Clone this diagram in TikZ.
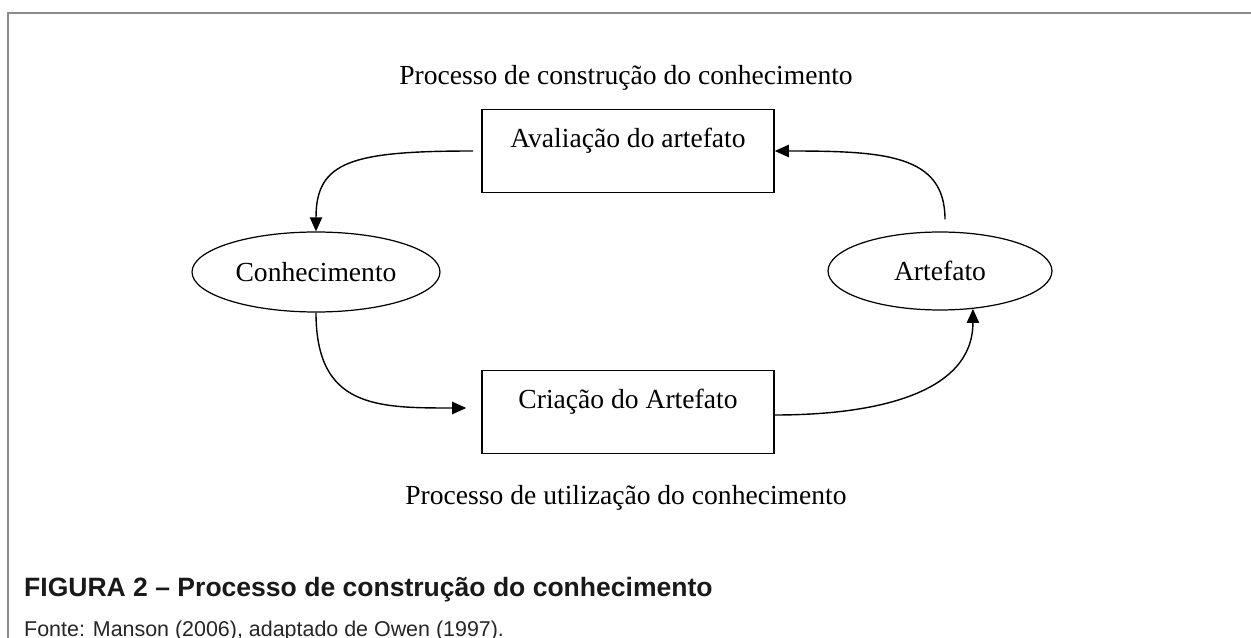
\documentclass[tikz,border=0pt]{standalone}
\usepackage{fontspec}
\setmainfont{Liberation Serif}
\newfontfamily\capfont{Liberation Sans}
\usetikzlibrary{arrows.meta,shapes}
\definecolor{framegray}{HTML}{8C8C8C}

\begin{document}
\begin{tikzpicture}[x=0.02cm,y=-0.02cm,
    font=\fontsize{15.7}{19}\selectfont,
    box/.style={draw,line width=0.9pt,minimum width=5.84cm,minimum height=1.66cm,inner sep=0pt,text height=8pt,text depth=12.5pt},
    elli/.style={draw,ellipse,line width=0.7pt,inner sep=0pt},
    arr/.style={-{Triangle[length=8pt,width=7pt]},line width=0.8pt}]
% page and grey frame
    \useasboundingbox (0,0) rectangle (1251,638);
    \draw[framegray,line width=1.1pt] (8,638) -- (8,13) -- (1251,13);

    \node[anchor=base] (top_text) at (626,85) {Processo de construção do conhecimento};
    \node[box] (avaliacao) at (628,151) {Avaliação do artefato};
    \node[elli,minimum width=4.96cm,minimum height=1.6cm] (conhecimento) at (316,272) {Conhecimento};
    \node[elli,minimum width=4.48cm,minimum height=1.56cm] (artefato) at (940,271) {Artefato};
    \node[box] (criacao) at (628,412) {Criação do Artefato};
    \node[anchor=base] (bottom_text) at (626,504) {Processo de utilização do conhecimento};

    % caption under the figure
    \node[anchor=base west,font=\capfont\bfseries\fontsize{15.1}{18}\selectfont,text=black!90] (caption) at (18,596) {FIGURA 2 – Processo de construção do conhecimento};
    \node[anchor=base west,font=\capfont\fontsize{12.2}{14}\selectfont,text=black!85] (source) at (18,636) {Fonte: Manson (2006), adaptado de Owen (1997).};

    % cycle arrows
    \draw[arr,shorten <=0.16cm] (avaliacao.west) .. controls +(-130,0) and +(0,-70) .. (conhecimento.north);
    \draw[arr] (conhecimento.south) .. controls +(0,95) and +(-90,0) .. ([shift={(-15,-4)}]criacao.west);
    \draw[arr] ([shift={(0,3)}]criacao.east) .. controls +(100,0) and +(0,85) .. (artefato.-49);
    \draw[arr] ([shift={(5,-12)}]artefato.north) .. controls +(0,-65) and +(110,0) .. (avaliacao.east);
\end{tikzpicture}
\end{document}
